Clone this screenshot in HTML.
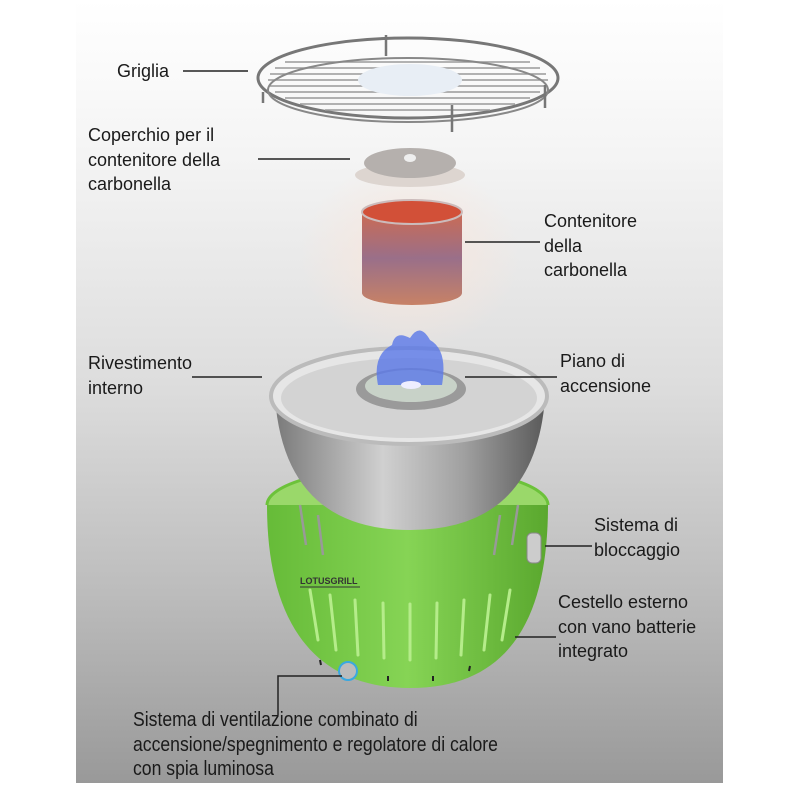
<!DOCTYPE html>
<html><head><meta charset="utf-8"><style>
body{margin:0;width:800px;height:800px;background:#fff;position:relative;overflow:hidden;font-family:"Liberation Sans",sans-serif;}
#bg{position:absolute;left:76px;top:0;width:647px;height:783px;background:linear-gradient(#fff 0%,#f4f4f4 20%,#dcdcdc 50%,#bdbdbd 75%,#999 100%);}
.t{position:absolute;font-size:18px;line-height:24.5px;color:#1a1a1a;white-space:nowrap;}
.c{transform:scaleX(0.88);transform-origin:left top;font-size:20px;}
svg{position:absolute;left:0;top:0;}
</style></head><body>
<div id="bg"></div>
<svg width="800" height="800">
<defs>
<radialGradient id="glow" cx="0.5" cy="0.5" r="0.5"><stop offset="0" stop-color="#f8e6dc"/><stop offset="1" stop-color="#f8e6dc" stop-opacity="0"/></radialGradient>
<linearGradient id="bowl" x1="0" x2="1"><stop offset="0" stop-color="#7a7a7a"/><stop offset="0.4" stop-color="#d0d0d0"/><stop offset="0.7" stop-color="#a0a0a0"/><stop offset="1" stop-color="#5a5a5a"/></linearGradient>
<linearGradient id="green" x1="0" x2="1"><stop offset="0" stop-color="#66bb38"/><stop offset="0.5" stop-color="#86d455"/><stop offset="1" stop-color="#5aa82e"/></linearGradient>
<linearGradient id="coal" x1="0" y1="0" x2="0" y2="1"><stop offset="0" stop-color="#c4553a"/><stop offset="0.5" stop-color="#8a5a7a"/><stop offset="1" stop-color="#c07050"/></linearGradient>
</defs>
<ellipse cx="410" cy="255" rx="110" ry="95" fill="url(#glow)"/>
<!-- grill -->
<ellipse cx="408" cy="78" rx="150" ry="40" fill="none" stroke="#777" stroke-width="3"/>
<g stroke="#999" stroke-width="1.5">
<line x1="285" y1="62" x2="530" y2="62"/><line x1="275" y1="68" x2="540" y2="68"/><line x1="270" y1="74" x2="546" y2="74"/><line x1="268" y1="80" x2="548" y2="80"/><line x1="270" y1="86" x2="546" y2="86"/><line x1="275" y1="92" x2="540" y2="92"/><line x1="285" y1="98" x2="530" y2="98"/><line x1="300" y1="104" x2="515" y2="104"/><line x1="325" y1="110" x2="490" y2="110"/>
</g>
<ellipse cx="410" cy="80" rx="52" ry="16" fill="#e8eef5"/>
<ellipse cx="408" cy="90" rx="140" ry="32" fill="none" stroke="#888" stroke-width="2"/>
<g stroke="#777" stroke-width="2.5"><line x1="263" y1="92" x2="263" y2="103"/><line x1="452" y1="105" x2="452" y2="132"/><line x1="386" y1="35" x2="386" y2="56"/><line x1="545" y1="85" x2="545" y2="108"/></g>
<!-- lid -->
<ellipse cx="410" cy="175" rx="55" ry="12" fill="#ddd5d0"/>
<ellipse cx="410" cy="163" rx="46" ry="15" fill="#b5b0ad"/>
<ellipse cx="410" cy="158" rx="6" ry="4" fill="#eee"/>
<!-- charcoal container -->
<path d="M362 212 L362 293 A50 12 0 0 0 462 293 L462 212 Z" fill="url(#coal)" opacity="0.85"/>
<ellipse cx="412" cy="212" rx="50" ry="12" fill="#d25038" stroke="#cbb" stroke-width="2"/>
<!-- green basket -->
<path d="M267 505 C267 610 305 688 410 688 C515 688 548 610 548 505 Z" fill="url(#green)"/>
<path d="M267 505 A140 38 0 0 1 548 505" fill="#9ad86a" stroke="#6cc23a" stroke-width="3"/>
<path d="M275 398 Q285 530 410 530 Q535 530 545 398 Z" fill="url(#bowl)"/>
<g stroke="#b5ec8a" stroke-width="3" stroke-linecap="round">
<line x1="310" y1="590" x2="318" y2="640"/><line x1="330" y1="595" x2="336" y2="650"/><line x1="355" y1="600" x2="358" y2="655"/><line x1="383" y1="603" x2="384" y2="658"/><line x1="410" y1="604" x2="410" y2="660"/><line x1="437" y1="603" x2="436" y2="658"/><line x1="464" y1="600" x2="461" y2="655"/><line x1="490" y1="595" x2="484" y2="650"/><line x1="510" y1="590" x2="502" y2="640"/>
</g>
<g stroke="#222" stroke-width="2"><line x1="388" y1="676" x2="388" y2="681"/><line x1="433" y1="676" x2="433" y2="681"/><line x1="470" y1="666" x2="469" y2="671"/><line x1="320" y1="660" x2="321" y2="665"/></g>
<g stroke="#999" stroke-width="2.5"><line x1="300" y1="505" x2="306" y2="545"/><line x1="318" y1="515" x2="323" y2="555"/><line x1="500" y1="515" x2="494" y2="555"/><line x1="518" y1="505" x2="512" y2="545"/></g>
<text x="300" y="584" font-size="9" fill="#333" font-weight="bold" font-family="Liberation Sans">LOTUSGRILL</text>
<line x1="300" y1="587" x2="360" y2="587" stroke="#333" stroke-width="1"/>
<rect x="527" y="533" width="14" height="30" rx="5" fill="#ccc" stroke="#888"/>
<circle cx="348" cy="671" r="9" fill="#bbb" stroke="#3aa8e0" stroke-width="2"/>
<!-- bowl rim -->
<ellipse cx="409" cy="396" rx="138" ry="48" fill="#e6e6e6" stroke="#bbb" stroke-width="4"/>
<ellipse cx="409" cy="398" rx="128" ry="40" fill="#d3d3d3"/>
<!-- burner & flame -->
<ellipse cx="411" cy="389" rx="55" ry="21" fill="#9a9a9a"/>
<ellipse cx="411" cy="386" rx="46" ry="16" fill="#c8d2c8"/>
<path d="M378 385 Q372 355 392 345 Q395 330 410 338 Q420 322 430 340 Q448 350 442 385 Z" fill="#5a78e8" opacity="0.8"/>
<ellipse cx="411" cy="385" rx="10" ry="4" fill="#eef"/>
<!-- leader lines -->
<g stroke="#222" stroke-width="1.5" fill="none">
<line x1="183" y1="71" x2="248" y2="71"/>
<line x1="258" y1="159" x2="350" y2="159"/>
<line x1="465" y1="242" x2="540" y2="242"/>
<line x1="192" y1="377" x2="262" y2="377"/>
<line x1="465" y1="377" x2="557" y2="377"/>
<line x1="545" y1="546" x2="592" y2="546"/>
<line x1="515" y1="637" x2="556" y2="637"/>
<polyline points="278,715 278,676 342,676"/>
</g>
</svg>
<div class="t" style="left:117px;top:59px">Griglia</div>
<div class="t" style="left:88px;top:123px">Coperchio per il<br>contenitore della<br>carbonella</div>
<div class="t" style="left:544px;top:209px">Contenitore<br>della<br>carbonella</div>
<div class="t" style="left:88px;top:351px">Rivestimento<br>interno</div>
<div class="t" style="left:560px;top:349px">Piano di<br>accensione</div>
<div class="t" style="left:594px;top:513px">Sistema di<br>bloccaggio</div>
<div class="t" style="left:558px;top:590px">Cestello esterno<br>con vano batterie<br>integrato</div>
<div class="t c" style="left:133px;top:708px">Sistema di ventilazione combinato di<br>accensione/spegnimento e regolatore di calore<br>con spia luminosa</div>
</body></html>
